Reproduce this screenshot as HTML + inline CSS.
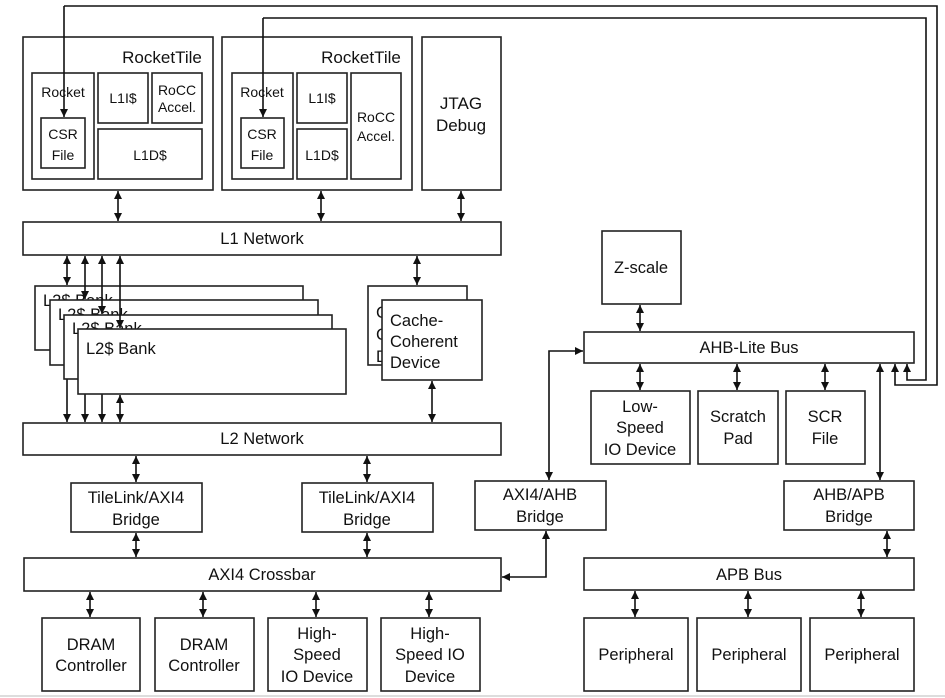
<!DOCTYPE html>
<html><head><meta charset="utf-8"><style>
html,body{margin:0;padding:0;background:#fff}
svg{display:block}
text{font-family:"Liberation Sans",Arial,sans-serif;font-size:16.5px;fill:#111}
</style></head><body>
<svg width="945" height="698" viewBox="0 0 945 698" xmlns="http://www.w3.org/2000/svg">
<defs>
<marker id="a" viewBox="0 0 10 10" refX="10" refY="5" markerWidth="8" markerHeight="8" markerUnits="userSpaceOnUse" orient="auto-start-reverse">
<path d="M0,0 L10,5 L0,10 z" fill="#111"/></marker>
</defs>
<!-- behind-bank lines -->
<g stroke="#111" stroke-width="1.6" fill="none">
<line x1="67" y1="351" x2="67" y2="422" marker-end="url(#a)"/>
<line x1="85" y1="366" x2="85" y2="422" marker-end="url(#a)"/>
<line x1="102" y1="380" x2="102" y2="422" marker-end="url(#a)"/>
</g>
<g fill="#fff" stroke="#222" stroke-width="1.6">
<rect x="23" y="37" width="190" height="153"/>
<rect x="32" y="73" width="62" height="106"/>
<rect x="41" y="118" width="44" height="50"/>
<rect x="98" y="73" width="50" height="50"/>
<rect x="152" y="73" width="50" height="50"/>
<rect x="98" y="129" width="104" height="50"/>
<rect x="222" y="37" width="190" height="153"/>
<rect x="232" y="73" width="61" height="106"/>
<rect x="241" y="118" width="43" height="50"/>
<rect x="297" y="73" width="50" height="50"/>
<rect x="297" y="129" width="50" height="50"/>
<rect x="351" y="73" width="50" height="106"/>
<rect x="422" y="37" width="79" height="153"/>
<rect x="23" y="222" width="478" height="33"/>
<rect x="602" y="231" width="79" height="73"/>
<rect x="584" y="332" width="330" height="31"/>
<rect x="23" y="423" width="478" height="32"/>
<rect x="71" y="483" width="131" height="49"/>
<rect x="302" y="483" width="131" height="49"/>
<rect x="475" y="481" width="131" height="49"/>
<rect x="784" y="481" width="130" height="49"/>
<rect x="591" y="391" width="99" height="73"/>
<rect x="698" y="391" width="80" height="73"/>
<rect x="786" y="391" width="79" height="73"/>
<rect x="24" y="558" width="477" height="33"/>
<rect x="584" y="558" width="330" height="32"/>
<rect x="42" y="618" width="98" height="73"/>
<rect x="155" y="618" width="99" height="73"/>
<rect x="268" y="618" width="99" height="73"/>
<rect x="381" y="618" width="99" height="73"/>
<rect x="584" y="618" width="104" height="73"/>
<rect x="697" y="618" width="104" height="73"/>
<rect x="810" y="618" width="104" height="73"/>
</g>
<g stroke="#222" stroke-width="1.6">
<rect x="35" y="286" width="268" height="64" fill="#fff"/>
<text x="43" y="306" stroke="none">L2$ Bank</text>
<rect x="50" y="300" width="268" height="65" fill="#fff"/>
<text x="58" y="320" stroke="none">L2$ Bank</text>
<rect x="64" y="315" width="268" height="64" fill="#fff"/>
<text x="72" y="334" stroke="none">L2$ Bank</text>
<rect x="78" y="329" width="268" height="65" fill="#fff"/>
<rect x="368" y="286" width="99" height="79" fill="#fff"/>
<text x="376" y="318" stroke="none">Cache-</text>
<text x="376" y="340" stroke="none">Coherent</text>
<text x="376" y="362" stroke="none">Device</text>
<rect x="382" y="300" width="100" height="80" fill="#fff"/>
</g>
<g stroke="#111" stroke-width="1.6" fill="none">
<polyline points="64,6 937,6 937,385 895,385 895,364" marker-end="url(#a)"/>
<polyline points="263,18 926,18 926,380 907,380 907,364" marker-end="url(#a)"/>
<line x1="64" y1="6" x2="64" y2="117" marker-end="url(#a)"/>
<line x1="263" y1="18" x2="263" y2="117" marker-end="url(#a)"/>
<g marker-start="url(#a)" marker-end="url(#a)">
<line x1="118" y1="191" x2="118" y2="221"/>
<line x1="321" y1="191" x2="321" y2="221"/>
<line x1="461" y1="191" x2="461" y2="221"/>
<line x1="67" y1="256" x2="67" y2="285"/>
<line x1="85" y1="256" x2="85" y2="299"/>
<line x1="102" y1="256" x2="102" y2="314"/>
<line x1="120" y1="256" x2="120" y2="328"/>
<line x1="417" y1="256" x2="417" y2="285"/>
<line x1="120" y1="395" x2="120" y2="422"/>
<line x1="432" y1="381" x2="432" y2="422"/>
<line x1="136" y1="456" x2="136" y2="482"/>
<line x1="136" y1="533" x2="136" y2="557"/>
<line x1="367" y1="456" x2="367" y2="482"/>
<line x1="367" y1="533" x2="367" y2="557"/>
<line x1="90" y1="592" x2="90" y2="617"/>
<line x1="203" y1="592" x2="203" y2="617"/>
<line x1="316" y1="592" x2="316" y2="617"/>
<line x1="429" y1="592" x2="429" y2="617"/>
<line x1="640" y1="305" x2="640" y2="331"/>
<line x1="640" y1="364" x2="640" y2="390"/>
<line x1="737" y1="364" x2="737" y2="390"/>
<line x1="825" y1="364" x2="825" y2="390"/>
<line x1="880" y1="364" x2="880" y2="480"/>
<line x1="887" y1="531" x2="887" y2="557"/>
<line x1="635" y1="591" x2="635" y2="617"/>
<line x1="748" y1="591" x2="748" y2="617"/>
<line x1="861" y1="591" x2="861" y2="617"/>
<polyline points="583,351 549,351 549,480"/>
<polyline points="546,531 546,577 502,577"/>
</g>
</g>
<line x1="0" y1="696" x2="945" y2="696" stroke="#ddd" stroke-width="2"/>
<g text-anchor="middle">
<text x="162" y="63" style="font-size:17px">RocketTile</text>
<text x="361" y="63" style="font-size:17px">RocketTile</text>
<text x="63" y="97" style="font-size:14px">Rocket</text>
<text x="63" y="139" style="font-size:14px">CSR</text>
<text x="63" y="160" style="font-size:14px">File</text>
<text x="123" y="103" style="font-size:14px">L1I$</text>
<text x="177" y="95" style="font-size:14px">RoCC</text>
<text x="177" y="112" style="font-size:14px">Accel.</text>
<text x="150" y="160" style="font-size:14px">L1D$</text>
<text x="262" y="97" style="font-size:14px">Rocket</text>
<text x="262" y="139" style="font-size:14px">CSR</text>
<text x="262" y="160" style="font-size:14px">File</text>
<text x="322" y="103" style="font-size:14px">L1I$</text>
<text x="322" y="160" style="font-size:14px">L1D$</text>
<text x="376" y="122" style="font-size:14px">RoCC</text>
<text x="376" y="141" style="font-size:14px">Accel.</text>
<text x="461" y="109" style="font-size:17px">JTAG</text>
<text x="461" y="131" style="font-size:17px">Debug</text>
<text x="262" y="244">L1 Network</text>
<text x="262" y="444">L2 Network</text>
<text x="136" y="503">TileLink/AXI4</text>
<text x="136" y="525">Bridge</text>
<text x="367" y="503">TileLink/AXI4</text>
<text x="367" y="525">Bridge</text>
<text x="540" y="500">AXI4/AHB</text>
<text x="540" y="522">Bridge</text>
<text x="849" y="500">AHB/APB</text>
<text x="849" y="522">Bridge</text>
<text x="262" y="580">AXI4 Crossbar</text>
<text x="749" y="580">APB Bus</text>
<text x="749" y="353">AHB-Lite Bus</text>
<text x="641" y="273">Z-scale</text>
<text x="640" y="412">Low-</text>
<text x="640" y="433">Speed</text>
<text x="640" y="455">IO Device</text>
<text x="738" y="422">Scratch</text>
<text x="738" y="444">Pad</text>
<text x="825" y="422">SCR</text>
<text x="825" y="444">File</text>
<text x="91" y="650">DRAM</text>
<text x="91" y="671">Controller</text>
<text x="204" y="650">DRAM</text>
<text x="204" y="671">Controller</text>
<text x="317" y="639">High-</text>
<text x="317" y="660">Speed</text>
<text x="317" y="682">IO Device</text>
<text x="430" y="639">High-</text>
<text x="430" y="660">Speed IO</text>
<text x="430" y="682">Device</text>
<text x="636" y="660">Peripheral</text>
<text x="749" y="660">Peripheral</text>
<text x="862" y="660">Peripheral</text>
</g>
<text x="86" y="354">L2$ Bank</text>
<text x="390" y="326">Cache-</text>
<text x="390" y="347">Coherent</text>
<text x="390" y="368">Device</text>
</svg>
</body></html>
